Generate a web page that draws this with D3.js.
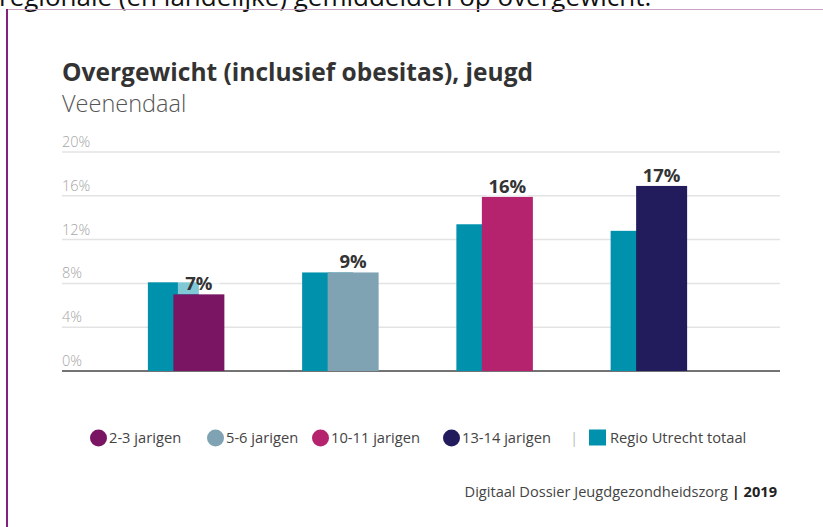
<!DOCTYPE html>
<html>
<head>
<meta charset="utf-8">
<script src="https://cdn.jsdelivr.net/npm/d3@7"></script>
<style>
  body { margin: 0; background: #fff; }
  svg { display: block; font-family: "Open Sans", sans-serif; }
</style>
</head>
<body>
<div id="chart"></div>
<script>
// data
const groups = ["2-3 jarigen", "5-6 jarigen", "10-11 jarigen", "13-14 jarigen"];
const veenendaal = [7.0, 9.0, 15.9, 16.9];
const regioUtrecht = [8.1, 9.0, 13.4, 12.8];
const groupColors = ["#7a1564", "#7fa3b3", "#b5236f", "#221c5c"];
const regioColor = "#0091ad";
const yTicks = [0, 4, 8, 12, 16, 20];

const ctx = {
    w: 823,
    h: 527,
    left: 62,
    right: 780,
    top: 152,
    bottom: 371,
    barW: 51
};

const svg = d3.select("#chart").append("svg")
    .attr("width", ctx.w)
    .attr("height", ctx.h);

// page text above, cut off by the screenshot
svg.append("text")
    .attr("x", -1).attr("y", 6)
    .style("font-size", "26px")
    .style("fill", "#111")
    .text("regionale (en landelijke) gemiddelden op overgewicht.");

// frame of the embedded chart
svg.append("line").attr("x1", 7).attr("x2", ctx.w).attr("y1", 9.5).attr("y2", 9.5)
    .style("stroke", "#c9a3c4").style("stroke-width", 1);
svg.append("line").attr("x1", 7).attr("x2", 7).attr("y1", 9).attr("y2", ctx.h)
    .style("stroke", "#85207f").style("stroke-width", 2);

// title
svg.append("text")
    .attr("x", 62).attr("y", 81)
    .style("font-size", "24.5px").style("font-weight", "bold").style("fill", "#333")
    .text("Overgewicht (inclusief obesitas), jeugd");
svg.append("text")
    .attr("x", 62).attr("y", 112)
    .style("font-size", "23.5px").style("font-weight", 300).style("fill", "#555")
    .text("Veenendaal");

// scales
const y = d3.scaleLinear().domain([0, 20]).range([ctx.bottom, ctx.top]);
const x = d3.scaleBand().domain(groups).range([109, 726]);

// grid
const grid = svg.append("g");
grid.selectAll("line")
    .data(yTicks.filter(d => d > 0))
    .enter().append("line")
    .attr("x1", ctx.left).attr("x2", ctx.right)
    .attr("y1", d => y(d)).attr("y2", d => y(d))
    .style("stroke", "#e3e3e3").style("stroke-width", 1.5);
grid.selectAll("text")
    .data(yTicks)
    .enter().append("text")
    .attr("x", ctx.left).attr("y", d => y(d) - 5)
    .style("font-size", "14.5px").style("font-weight", 300).style("fill", "#a5a5a5")
    .text(d => d + "%");

svg.append("line")
    .attr("x1", ctx.left).attr("x2", ctx.right)
    .attr("y1", y(0)).attr("y2", y(0))
    .style("stroke", "#444").style("stroke-width", 1.5);

const data = groups.map((g, i) => ({ group: g, value: veenendaal[i], regio: regioUtrecht[i], color: groupColors[i] }));

// regio bars (behind)
svg.selectAll(".regio")
    .data(data)
    .enter().append("rect")
    .attr("class", "regio")
    .attr("x", d => x(d.group) + x.bandwidth() / 2 - ctx.barW / 2 - ctx.barW / 4)
    .attr("y", d => y(d.regio))
    .attr("width", ctx.barW)
    .attr("height", d => y(0) - y(d.regio))
    .style("fill", regioColor);

// label backgrounds
svg.selectAll(".lblbg")
    .data(data)
    .enter().append("rect")
    .attr("class", "lblbg")
    .attr("x", d => x(d.group) + x.bandwidth() / 2 + ctx.barW / 4 - 21)
    .attr("y", d => y(d.value) - 18)
    .attr("width", 42)
    .attr("height", 18)
    .style("fill", "#fff").style("opacity", 0.5);

// veenendaal bars (front)
svg.selectAll(".veen")
    .data(data)
    .enter().append("rect")
    .attr("class", "veen")
    .attr("x", d => x(d.group) + x.bandwidth() / 2 - ctx.barW / 2 + ctx.barW / 4)
    .attr("y", d => y(d.value))
    .attr("width", ctx.barW)
    .attr("height", d => y(0) - y(d.value))
    .style("fill", d => d.color);

svg.selectAll(".lbl")
    .data(data)
    .enter().append("text")
    .attr("class", "lbl")
    .attr("x", d => x(d.group) + x.bandwidth() / 2 + ctx.barW / 4)
    .attr("y", d => y(d.value) - 4)
    .attr("text-anchor", "middle")
    .style("font-size", "18.5px").style("font-weight", "bold").style("fill", "#333")
    .text(d => Math.round(d.value) + "%");

// legend
const legend = svg.append("g").attr("transform", "translate(0,438)");
const legendX = [98.5, 215.5, 320.5, 451.5];
const li = legend.selectAll("g")
    .data(data)
    .enter().append("g")
    .attr("transform", (d, i) => "translate(" + legendX[i] + ",0)");
li.append("circle").attr("r", 8.5).style("fill", d => d.color);
li.append("text")
    .attr("x", 10.5).attr("y", 5)
    .style("font-size", "14.7px").style("fill", "#444")
    .text(d => d.group);
legend.append("text")
    .attr("x", 570).attr("y", 5)
    .style("font-size", "15px").style("fill", "#bbb")
    .text("|");
legend.append("rect")
    .attr("x", 589).attr("y", -8.5).attr("width", 17).attr("height", 16)
    .style("fill", regioColor);
legend.append("text")
    .attr("x", 610).attr("y", 5)
    .style("font-size", "14.7px").style("fill", "#444")
    .text("Regio Utrecht totaal");

// footer
const foot = svg.append("text")
    .attr("x", 777).attr("y", 497)
    .attr("text-anchor", "end")
    .style("font-size", "14.6px").style("fill", "#444");
foot.append("tspan").text("Digitaal Dossier Jeugdgezondheidszorg ");
foot.append("tspan").style("font-weight", "bold").style("fill", "#222").text("| 2019");
</script>
</body>
</html>
